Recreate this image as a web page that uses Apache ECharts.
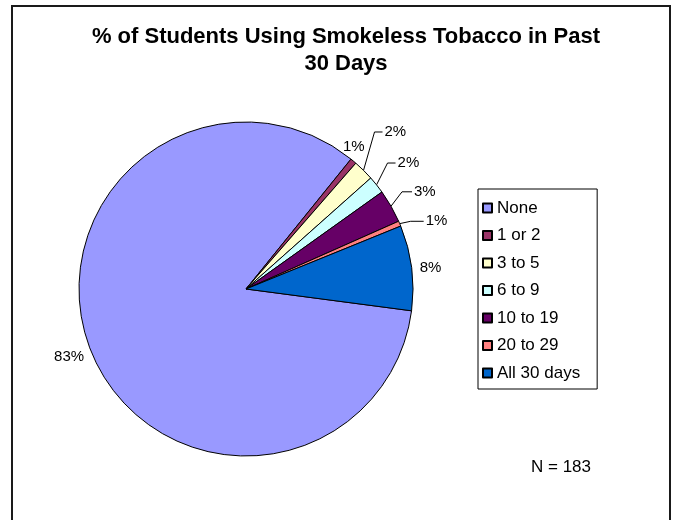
<!DOCTYPE html>
<html>
<head>
<meta charset="utf-8">
<script src="https://cdn.jsdelivr.net/npm/echarts@6/dist/echarts.min.js"></script>
<style>
html,body{margin:0;padding:0;background:#fff;}
#chart{width:673px;height:520px;}
</style>
</head>
<body>
<div id="chart"></div>
<script>
// ---- data ----
const titleText = '% of Students Using Smokeless Tobacco in Past\n30 Days';
const noteText = 'N = 183';
const categories = ['None', '1 or 2', '3 to 5', '6 to 9', '10 to 19', '20 to 29', 'All 30 days'];
const values = [83.4, 0.6, 2.0, 1.7, 3.2, 0.5, 8.2];
const colors = ['#9999FF', '#993366', '#FFFFCC', '#CCFFFF', '#660066', '#FF8080', '#0066CC'];

// ---- label styling (leader line lengths / spacing per slice) ----
// len: radial distance out to the label row; slant: horizontal run of the slanted segment;
// run: horizontal segment length before the text.
const labelStyle = [
  { line: false, len: 16, len2: -8, dist: 0 },
  { line: false, len: 18, len2: -22, dist: 0 },
  { line: true, len: 54, len2: 0, dist: 0, slant: 11, run: 8 },
  { line: true, len: 35, len2: 0, dist: 0, slant: 11, run: 8 },
  { line: true, len: 29, len2: 0, dist: 0, slant: 11, run: 10 },
  { line: true, len: 6, len2: 0, dist: 0, slant: 11, run: 13 },
  { line: false, len: 0, len2: 0, dist: 8 }
];
const TEXT_GAP = 2;

const FONT = 'Liberation Sans, Arial, sans-serif';

const chart = echarts.init(document.getElementById('chart'), null, { renderer: 'canvas' });

const seriesData = categories.map((name, i) => ({
  name: name,
  value: values[i],
  itemStyle: { color: colors[i] },
  label: { distanceToLabelLine: labelStyle[i].dist },
  labelLine: {
    show: labelStyle[i].line,
    length: labelStyle[i].len,
    length2: labelStyle[i].len2
  }
}));

chart.setOption({
  backgroundColor: '#ffffff',
  animation: false,
  title: [
    {
      text: titleText,
      left: 341,
      textAlign: 'center',
      top: 18,
      textStyle: { fontFamily: FONT, fontWeight: 'bold', fontSize: 22, lineHeight: 27, color: '#000' }
    },
    {
      text: noteText,
      left: 526,
      top: 454,
      textStyle: { fontFamily: FONT, fontWeight: 'normal', fontSize: 17, color: '#000' }
    }
  ],
  legend: {
    orient: 'vertical',
    left: 478,
    top: 189,
    data: categories,
    icon: 'rect',
    itemWidth: 9,
    itemHeight: 9,
    itemGap: 10.5,
    padding: [10.5, 17, 7.5, 4],
    borderColor: '#000',
    borderWidth: 1,
    selectedMode: false,
    textStyle: { fontFamily: FONT, fontSize: 17, color: '#000' }
  },
  graphic: [
    {
      type: 'rect',
      shape: { x: 12, y: 6, width: 658, height: 540 },
      style: { fill: 'none', stroke: '#1a1a1a', lineWidth: 2 },
      silent: true,
      z: 100
    }
  ],
  series: [
    {
      type: 'pie',
      center: [246, 289],
      radius: 167,
      startAngle: -7.5,
      clockwise: true,
      avoidLabelOverlap: false,
      minShowLabelAngle: 0,
      itemStyle: { borderColor: '#000', borderWidth: 1 },
      emphasis: { disabled: true },
      label: {
        show: true,
        position: 'outside',
        fontFamily: FONT,
        fontSize: 15,
        color: '#000',
        formatter: function (p) { return Math.round(p.value) + '%'; }
      },
      labelLine: {
        lineStyle: { color: '#000', width: 1 },
        smooth: false
      },
      labelLayout: function (params) {
        const st = labelStyle[params.dataIndex];
        if (!st || !st.line || !params.labelLinePoints) return {};
        const p0 = params.labelLinePoints[0];
        const rowY = params.labelRect.y + params.labelRect.height / 2;
        const p1 = [p0[0] + st.slant, rowY];
        const p2 = [p1[0] + st.run, rowY];
        return {
          x: p2[0] + TEXT_GAP,
          y: rowY,
          align: 'left',
          verticalAlign: 'middle',
          labelLinePoints: [p0, p1, p2]
        };
      },
      data: seriesData
    }
  ]
});
</script>
</body>
</html>
